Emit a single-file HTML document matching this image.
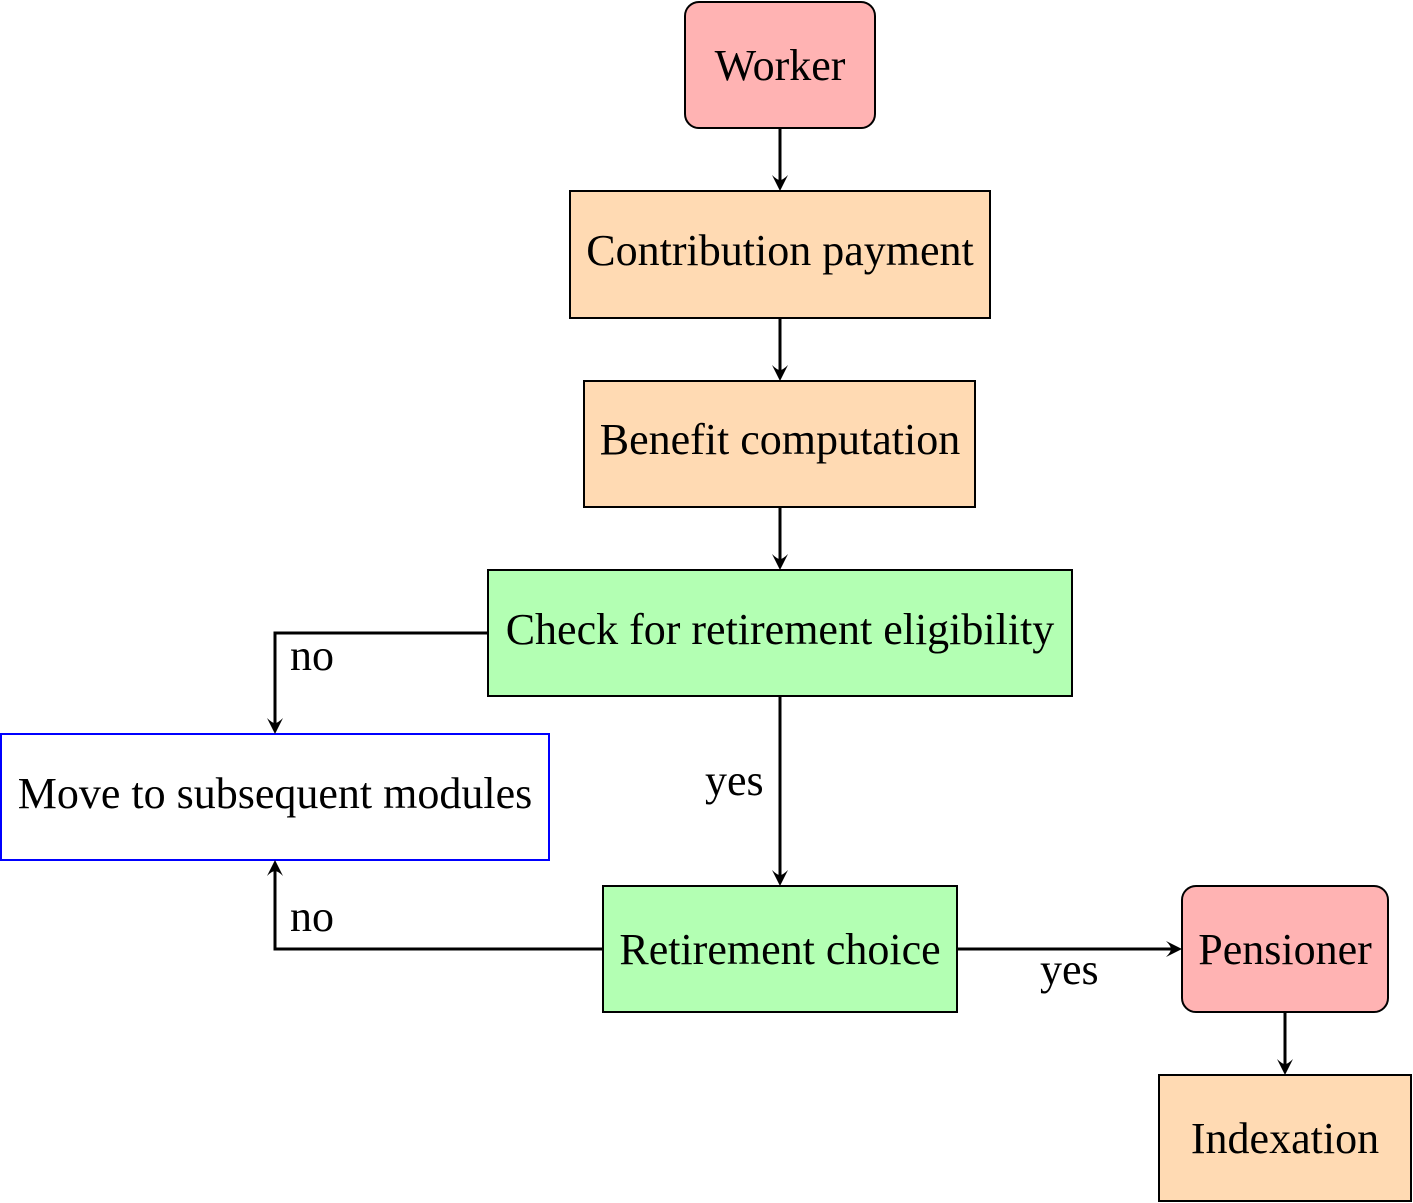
<!DOCTYPE html>
<html><head><style>html,body{margin:0;padding:0;background:#fff}svg{display:block}</style></head><body>
<svg width="1413" height="1203" viewBox="0 0 1413 1203" xmlns="http://www.w3.org/2000/svg" font-family="Liberation Serif, serif" font-size="44">
<g stroke="#000" stroke-width="2">
<rect x="685" y="2" width="190" height="126" rx="14" fill="#ffb3b3"/>
<rect x="570" y="191" width="420" height="127" fill="#ffdab3"/>
<rect x="584" y="381" width="391" height="126" fill="#ffdab3"/>
<rect x="488" y="570" width="584" height="126" fill="#b3ffb3"/>
<rect x="1" y="734" width="548" height="126" fill="#fff" stroke="#00f"/>
<rect x="603" y="886" width="354" height="126" fill="#b3ffb3"/>
<rect x="1182" y="886" width="206" height="126" rx="14" fill="#ffb3b3"/>
<rect x="1159" y="1075" width="252" height="126" fill="#ffdab3"/>
</g>
<g stroke="#000" stroke-width="3" fill="none">
<path d="M780 128V185"/>
<path d="M780 318V375"/>
<path d="M780 507V564"/>
<path d="M488 633H275V728"/>
<path d="M780 696V880"/>
<path d="M603 949H275V866"/>
<path d="M957 949H1176"/>
<path d="M1285 1012V1069"/>
</g>
<g fill="#000">
<path d="M780 191l-8,-16q5,5 8,5q3,0 8,-5z"/>
<path d="M780 381l-8,-16q5,5 8,5q3,0 8,-5z"/>
<path d="M780 570l-8,-16q5,5 8,5q3,0 8,-5z"/>
<path d="M275 734l-8,-16q5,5 8,5q3,0 8,-5z"/>
<path d="M780 886l-8,-16q5,5 8,5q3,0 8,-5z"/>
<path d="M1285 1075l-8,-16q5,5 8,5q3,0 8,-5z"/>
<path d="M275 860l-8,16q5,-5 8,-5q3,0 8,5z"/>
<path d="M1182 949l-16,-8q5,5 5,8q0,3 -5,8z"/>
</g>
<g text-anchor="middle">
<text x="780" y="80">Worker</text>
<text x="780" y="265">Contribution payment</text>
<text x="780" y="454">Benefit computation</text>
<text x="780" y="644">Check for retirement eligibility</text>
<text x="275" y="808">Move to subsequent modules</text>
<text x="780" y="964">Retirement choice</text>
<text x="1285" y="964">Pensioner</text>
<text x="1285" y="1153">Indexation</text>
</g>
<text x="290" y="670">no</text>
<text x="705" y="795">yes</text>
<text x="290" y="931">no</text>
<text x="1040" y="984">yes</text>
</svg>
</body></html>
